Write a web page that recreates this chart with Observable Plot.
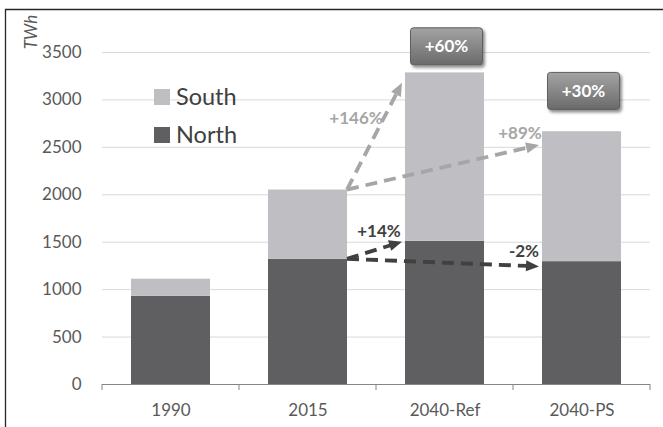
<!DOCTYPE html>
<html><head><meta charset="utf-8">
<script src="https://cdn.jsdelivr.net/npm/d3@7"></script>
<script src="https://cdn.jsdelivr.net/npm/@observablehq/plot@0.6"></script>
<style>
body{margin:0;background:#fff;}
#chart{width:663px;height:427px;overflow:hidden;}
</style>
</head><body><div id="chart"></div>
<script>
// ---- data ----
const categories = ["1990", "2015", "2040-Ref", "2040-PS"];
const north = [930, 1320, 1510, 1295];
const south = [180, 730, 1775, 1370];
const regions = ["South", "North"];
const regionColors = ["#bfbfc3", "#5f5f61"];
const yTicks = [0, 500, 1000, 1500, 2000, 2500, 3000, 3500];
const yUnit = "TWh";

const badgeLabels = ["+60%", "+30%"];
const badgeCats = ["2040-Ref", "2040-PS"];
const badgeY = [3560, 3090];

const arrowFrom = "2015";
const arrowLabels = ["+146%", "+89%", "+14%", "-2%"];
const arrowTo = ["2040-Ref", "2040-PS", "2040-Ref", "2040-PS"];
const arrowStartY = [2050, 2050, 1320, 1320];
const arrowEndY = [3175, 2520, 1500, 1240];
const arrowRegion = ["South", "South", "North", "North"];

// ---- table for the stacked bars ----
const rows = [];
categories.forEach((c, i) => rows.push({category: c, region: "North", value: north[i]}));
categories.forEach((c, i) => rows.push({category: c, region: "South", value: south[i]}));

const W = 663, H = 427, mL = 102, mR = 13, mT = 52, mB = 43;
const FONT = "Lato, 'Open Sans', sans-serif";
const arrowColor = {South: "#a6a6a6", North: "#404040"};
// label offsets relative to arrow tips (px)
const labelOffsets = [[-46, 35], [-19, -12], [-23, -11], [-15, -15]];

function decorations(index, scales, values, dims) {
  const x = scales.x, y = scales.y;
  const bw = x.bandwidth ? x.bandwidth() : scales.scales.x.bandwidth;
  const step = x.step ? x.step() : scales.scales.x.step;
  const gap = step - bw;
  const g = d3.create("svg:g");
  const defs = g.append("defs");
  const grad = defs.append("linearGradient").attr("id", "badgeGrad")
    .attr("x1", 0).attr("y1", 0).attr("x2", 0).attr("y2", 1);
  grad.append("stop").attr("offset", "0%").attr("stop-color", "#a3a3a3");
  grad.append("stop").attr("offset", "45%").attr("stop-color", "#8a8a8a");
  grad.append("stop").attr("offset", "100%").attr("stop-color", "#6a6a6a");
  const filt = defs.append("filter").attr("id", "badgeShadow")
    .attr("x", "-20%").attr("y", "-20%").attr("width", "150%").attr("height", "160%");
  filt.append("feDropShadow").attr("dx", 2).attr("dy", 2.5).attr("stdDeviation", 1.8)
    .attr("flood-color", "#000").attr("flood-opacity", 0.45);

  // frame
  g.append("path").attr("d", `M5.5,${H} V9.5 H${W}`).attr("fill", "none")
    .attr("stroke", "#262626").attr("stroke-width", 1.3);

  // x axis line with boundary ticks
  const y0 = y(0);
  const x0 = x(categories[0]) - gap / 2;
  const xN = x(categories[categories.length - 1]) + bw + gap / 2;
  g.append("line").attr("x1", x0).attr("x2", xN).attr("y1", y0 + 0.5).attr("y2", y0 + 0.5)
    .attr("stroke", "#868686").attr("stroke-width", 1);
  const bounds = categories.map(c => x(c) - gap / 2).concat([xN]);
  bounds.forEach(b => g.append("line").attr("x1", b).attr("x2", b)
    .attr("y1", y0).attr("y2", y0 + 6).attr("stroke", "#868686").attr("stroke-width", 1));

  // unit label
  g.append("text").attr("transform", `translate(${mL - 71},${mT - 20}) rotate(-90)`)
    .attr("text-anchor", "middle").attr("dy", "0.35em")
    .style("font", `italic 17px ${FONT}`).attr("fill", "#595959").text(yUnit);

  // legend
  regions.forEach((r, i) => {
    const ly = mT + 37 + i * 38;
    g.append("rect").attr("x", mL + 52).attr("y", ly).attr("width", 16).attr("height", 16)
      .attr("fill", regionColors[i]);
    g.append("text").attr("x", mL + 74).attr("y", ly + 16).attr("text-anchor", "start")
      .style("font", `23.5px ${FONT}`).attr("fill", "#404040").text(r);
  });

  // arrows
  arrowLabels.forEach((lab, i) => {
    const xs = x(arrowFrom) + bw, ys = y(arrowStartY[i]);
    const xe = x(arrowTo[i]) - 3, ye = y(arrowEndY[i]);
    const col = arrowColor[arrowRegion[i]];
    const dx = xe - xs, dy = ye - ys, len = Math.hypot(dx, dy);
    const ux = dx / len, uy = dy / len, nx = -uy, ny = ux;
    const L = 13, Wd = 11;
    const bx = xe - ux * L, by = ye - uy * L;
    g.append("line").attr("x1", xs).attr("y1", ys).attr("x2", bx + ux * 2).attr("y2", by + uy * 2)
      .attr("stroke", col).attr("stroke-width", 3.8).attr("stroke-dasharray", "12,7");
    g.append("path").attr("d", `M${xe},${ye} L${bx + nx * Wd / 2},${by + ny * Wd / 2} L${bx - nx * Wd / 2},${by - ny * Wd / 2} Z`)
      .attr("fill", col);
    const [ox, oy] = labelOffsets[i];
    g.append("text").attr("x", xe + ox).attr("y", ye + oy)
      .attr("text-anchor", "middle").attr("dy", "0.35em")
      .style("font", `bold 17px ${FONT}`).attr("fill", col).text(lab);
  });

  // badges
  badgeLabels.forEach((lab, i) => {
    const cx = x(badgeCats[i]) + bw / 2 + 2, cy = y(badgeY[i]);
    const bwid = 72, bh = 37;
    g.append("rect").attr("x", cx - bwid / 2).attr("y", cy - bh / 2)
      .attr("width", bwid).attr("height", bh).attr("rx", 3)
      .attr("fill", "url(#badgeGrad)").attr("stroke", "#5e5e5e").attr("stroke-width", 1)
      .attr("filter", "url(#badgeShadow)");
    g.append("text").attr("x", cx).attr("y", cy).attr("text-anchor", "middle").attr("dy", "0.36em")
      .style("font", `bold 17px ${FONT}`).attr("fill", "#ffffff").text(lab);
  });
  return g.node();
}

const chart = Plot.plot({
  width: W, height: H,
  marginLeft: mL, marginRight: mR, marginTop: mT, marginBottom: mB,
  style: {fontFamily: FONT, fontSize: "17px", color: "#595959", background: "#fff", overflow: "visible"},
  x: {domain: categories, paddingInner: 0.42, paddingOuter: 0.21, label: null},
  y: {domain: [0, 3500], label: null},
  color: {domain: regions, range: regionColors},
  marks: [
    Plot.ruleY(yTicks.filter(t => t > 0), {stroke: "#d9d9d9", strokeWidth: 1}),
    Plot.barY(rows, {x: "category", y: "value", fill: "region", order: ["North", "South"]}),
    Plot.axisY({ticks: yTicks, tickSize: 0, tickPadding: 21, tickFormat: d => String(d), fill: "#595959"}),
    Plot.axisX({tickSize: 0, tickPadding: 19, fill: "#595959"}),
    decorations
  ]
});
document.getElementById("chart").appendChild(chart);
</script>
</body></html>
